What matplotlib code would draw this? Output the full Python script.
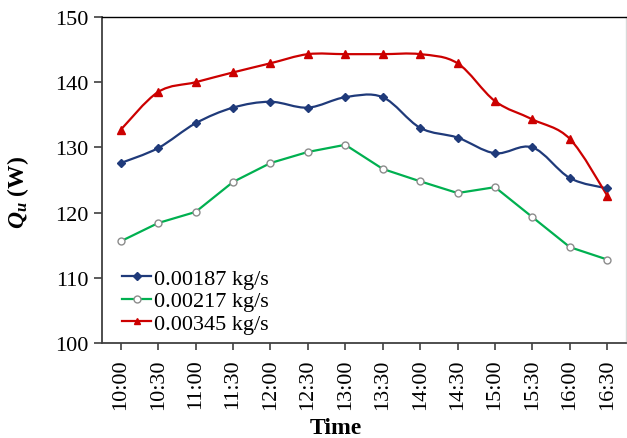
import numpy as np
import matplotlib
matplotlib.use("Agg")
import matplotlib.pyplot as plt
from matplotlib.path import Path
from matplotlib.patches import PathPatch
from matplotlib.lines import Line2D

# ===== data =====
times = ["10:00", "10:30", "11:00", "11:30", "12:00", "12:30", "13:00",
         "13:30", "14:00", "14:30", "15:00", "15:30", "16:00", "16:30"]
q_00187 = [127.6, 129.9, 133.7, 136.1, 137.0, 136.1, 137.7,
           137.7, 133.0, 131.5, 129.1, 130.0, 125.3, 123.7]
q_00217 = [115.6, 118.4, 120.1, 124.7, 127.6, 129.3, 130.4,
           126.7, 124.8, 123.0, 123.9, 119.3, 114.7, 112.8]
q_00345 = [132.7, 138.5, 140.0, 141.5, 142.9, 144.3, 144.3,
           144.3, 144.3, 142.9, 137.1, 134.3, 131.3, 122.6]
labels = ["0.00187 kg/s", "0.00217 kg/s", "0.00345 kg/s"]

plt.rcParams['font.family'] = ['Liberation Serif', 'DejaVu Serif']
plt.rcParams['mathtext.fontset'] = 'custom'
plt.rcParams['mathtext.bfit'] = 'Liberation Serif:bold:italic'
plt.rcParams['mathtext.it'] = 'Liberation Serif:italic'
plt.rcParams['mathtext.bf'] = 'Liberation Serif:bold'
plt.rcParams['mathtext.rm'] = 'Liberation Serif'


def smooth_path(x, y):
    # excel-style smoothed line: cubic bezier through each pair of points
    x = np.asarray(x, float)
    y = np.asarray(y, float)
    n = len(x)
    verts = [(x[0], y[0])]
    codes = [Path.MOVETO]
    for i in range(n - 1):
        p0 = np.array([x[max(i - 1, 0)], y[max(i - 1, 0)]])
        p1 = np.array([x[i], y[i]])
        p2 = np.array([x[i + 1], y[i + 1]])
        p3 = np.array([x[min(i + 2, n - 1)], y[min(i + 2, n - 1)]])
        c1 = p1 + (p2 - p0) / 6.0
        c2 = p2 - (p3 - p1) / 6.0
        verts += [tuple(c1), tuple(c2), tuple(p2)]
        codes += [Path.CURVE4] * 3
    return Path(verts, codes)


fig = plt.figure(figsize=(6.27, 4.39), dpi=100)
ax = fig.add_axes([0.1627, 0.2164, 0.8357, 0.7426])

x = np.arange(len(times))
blue, green, red = '#1f3a7a', '#00b050', '#cc0000'

ax.add_patch(PathPatch(smooth_path(x, q_00187), fill=False, ec=blue, lw=1.6, zorder=2))
ax.plot(x, q_00187, ls='none', marker='D', ms=4.5, color=blue, zorder=3)

ax.plot(x, q_00217, ls='-', lw=1.6, color=green, zorder=2)
ax.plot(x, q_00217, ls='none', marker='o', ms=5, mfc='white', mec='#8c8c8c', mew=1.0, zorder=3)

ax.add_patch(PathPatch(smooth_path(x, q_00345), fill=False, ec=red, lw=1.6, zorder=2))
ax.plot(x, q_00345, ls='none', marker='^', ms=6, color=red, zorder=3)

ax.set_xlim(-0.5, 13.5)
ax.set_ylim(100, 150)
ax.set_yticks(np.arange(100, 151, 10))
ax.set_xticks(x)
ax.set_xticklabels(times, rotation=90)
ax.tick_params(axis='both', labelsize=16, direction='out', color='#404040')
ax.tick_params(axis='y', length=6, width=1.2, pad=4)
ax.tick_params(axis='x', length=5, width=1.2, pad=6)

for s in ['left', 'bottom']:
    ax.spines[s].set_color('#404040')
    ax.spines[s].set_linewidth(1.3)
ax.spines['top'].set_color('black')
ax.spines['top'].set_linewidth(1.0)
ax.spines['right'].set_color('#d9d9d9')
ax.spines['right'].set_linewidth(1.0)

ax.set_ylabel(r'$\mathbfit{Q}_{\mathbfit{u}}$ (W)', fontsize=17, fontweight='bold')
ax.yaxis.set_label_coords(-0.135, 0.465)
ax.set_xlabel('Time', fontsize=17, fontweight='bold')
ax.xaxis.set_label_coords(0.447, -0.228)

handles = [
    Line2D([], [], color=blue, lw=1.6, marker='D', ms=4),
    Line2D([], [], color=green, lw=1.6, marker='o', ms=5, mfc='white', mec='#8c8c8c'),
    Line2D([], [], color=red, lw=1.6, marker='^', ms=5),
]
ax.legend(handles, labels, loc='lower left', bbox_to_anchor=(0.022, 0.0),
          frameon=False, fontsize=16, handlelength=1.3, handletextpad=0.1,
          labelspacing=0.1, borderaxespad=0.0)

fig.savefig('out.png', dpi=100)
